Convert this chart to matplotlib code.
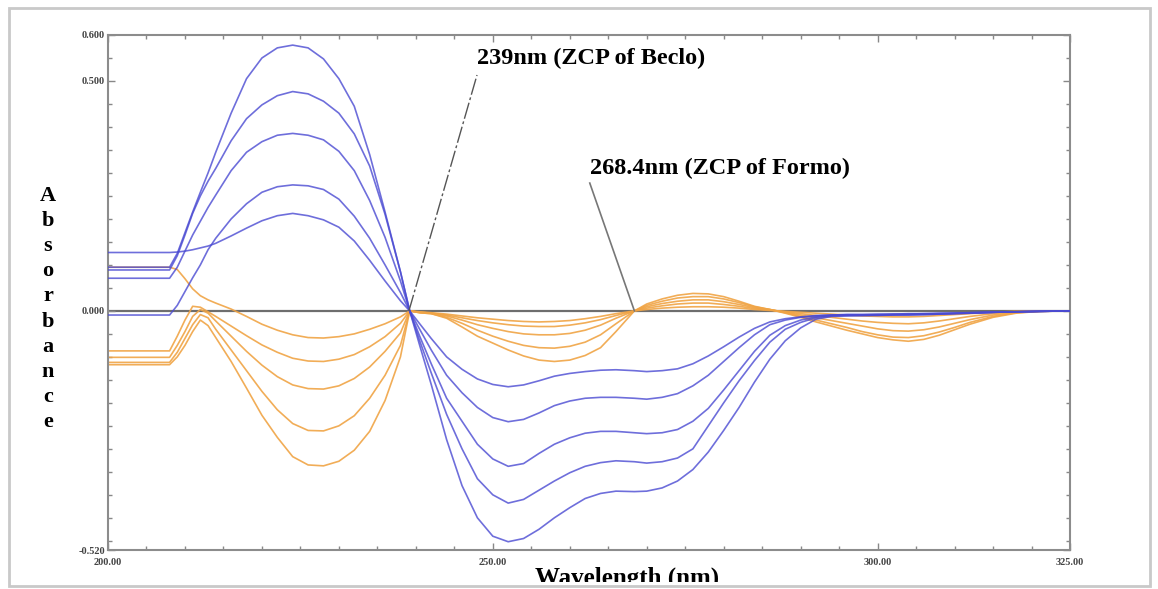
import matplotlib.pyplot as plt
from matplotlib.patches import Rectangle
from matplotlib.ticker import FixedLocator, MultipleLocator

wavelength = [200, 208, 209, 210, 211, 212, 213, 214, 216, 218, 220, 222, 224, 226, 228,
              230, 232, 234, 236, 238, 239.2, 240.5, 242, 244, 246, 248, 250, 252, 254, 256,
              258, 260, 262, 264, 266, 268.4, 270, 272, 274, 276, 278, 280, 282, 284, 286,
              288, 290, 292, 294, 296, 298, 300, 302, 304, 306, 308, 310, 312, 315, 318,
              321, 325]

# blue set (zero crossing at 239 nm)
beclo_1 = [0.095, 0.095, 0.125, 0.17, 0.215, 0.258, 0.30, 0.345, 0.43, 0.505, 0.55, 0.572, 0.578,
           0.572, 0.548, 0.505, 0.445, 0.34, 0.215, 0.085, 0.0, -0.075, -0.16, -0.28, -0.38,
           -0.45, -0.49, -0.502, -0.495, -0.475, -0.45, -0.428, -0.408, -0.397, -0.392, -0.393,
           -0.392, -0.385, -0.37, -0.345, -0.307, -0.26, -0.21, -0.155, -0.105, -0.065, -0.037,
           -0.018, -0.012, -0.011, -0.010, -0.010, -0.009, -0.009, -0.008, -0.007, -0.006,
           -0.005, -0.003, -0.002, -0.001, 0.0]
beclo_2 = [0.089, 0.089, 0.12, 0.165, 0.212, 0.25, 0.282, 0.31, 0.37, 0.418, 0.448, 0.468, 0.477,
           0.472, 0.456, 0.43, 0.385, 0.315, 0.21, 0.085, 0.0, -0.065, -0.135, -0.225, -0.30,
           -0.365, -0.40, -0.418, -0.41, -0.39, -0.37, -0.352, -0.338, -0.33, -0.326, -0.328,
           -0.331, -0.328, -0.32, -0.30, -0.25, -0.20, -0.152, -0.108, -0.068, -0.04, -0.025,
           -0.015, -0.011, -0.010, -0.010, -0.009, -0.009, -0.008, -0.008, -0.007, -0.006,
           -0.005, -0.003, -0.002, -0.001, 0.0]
beclo_3 = [0.071, 0.071, 0.095, 0.13, 0.165, 0.195, 0.225, 0.252, 0.305, 0.345, 0.368, 0.382, 0.386,
           0.382, 0.372, 0.347, 0.305, 0.24, 0.16, 0.065, 0.0, -0.055, -0.115, -0.19, -0.24,
           -0.29, -0.322, -0.338, -0.332, -0.31, -0.29, -0.276, -0.266, -0.262, -0.262, -0.265,
           -0.267, -0.265, -0.258, -0.24, -0.212, -0.172, -0.13, -0.088, -0.053, -0.032, -0.02,
           -0.013, -0.010, -0.009, -0.009, -0.009, -0.008, -0.008, -0.007, -0.006, -0.005,
           -0.004, -0.003, -0.002, -0.001, 0.0]
beclo_4 = [-0.009, -0.009, 0.012, 0.042, 0.072, 0.10, 0.133, 0.158, 0.20, 0.233, 0.258, 0.27, 0.274,
           0.272, 0.264, 0.243, 0.206, 0.158, 0.10, 0.04, 0.0, -0.04, -0.085, -0.14, -0.178,
           -0.21, -0.232, -0.241, -0.236, -0.222, -0.206, -0.196, -0.19, -0.188, -0.188, -0.19,
           -0.192, -0.188, -0.18, -0.163, -0.14, -0.11, -0.08, -0.052, -0.03, -0.02, -0.014,
           -0.011, -0.009, -0.008, -0.008, -0.008, -0.007, -0.007, -0.006, -0.006, -0.005,
           -0.004, -0.003, -0.002, -0.001, 0.0]
beclo_5 = [0.127, 0.127, 0.128, 0.13, 0.133, 0.137, 0.141, 0.147, 0.163, 0.18, 0.196, 0.207, 0.212,
           0.207, 0.198, 0.182, 0.152, 0.11, 0.065, 0.022, 0.0, -0.028, -0.06, -0.10, -0.127,
           -0.148, -0.16, -0.165, -0.161, -0.152, -0.142, -0.136, -0.132, -0.129, -0.128, -0.13,
           -0.132, -0.13, -0.126, -0.115, -0.098, -0.078, -0.057, -0.038, -0.024, -0.017, -0.013,
           -0.010, -0.009, -0.008, -0.008, -0.007, -0.007, -0.006, -0.006, -0.005, -0.005,
           -0.004, -0.003, -0.002, -0.001, 0.0]

# orange set (zero crossing at 268.4 nm)
formo_1 = [0.095, 0.095, 0.09, 0.07, 0.048, 0.033, 0.024, 0.017, 0.004, -0.012, -0.029, -0.042,
           -0.052, -0.058, -0.059, -0.056, -0.05, -0.04, -0.028, -0.013, 0.0, -0.002, -0.004,
           -0.007, -0.011, -0.015, -0.018, -0.021, -0.023, -0.024, -0.023, -0.021, -0.017,
           -0.012, -0.006, 0.0, 0.003, 0.006, 0.008, 0.009, 0.009, 0.008, 0.006, 0.003, 0.001,
           -0.001, -0.003, -0.005, -0.007, -0.009, -0.011, -0.012, -0.013, -0.013, -0.012,
           -0.010, -0.008, -0.006, -0.003, -0.001, 0.0, 0.0]
formo_2 = [-0.087, -0.087, -0.055, -0.02, 0.01, 0.008, -0.002, -0.012, -0.033, -0.054, -0.074,
           -0.09, -0.103, -0.109, -0.11, -0.105, -0.095, -0.078, -0.056, -0.027, 0.0, -0.003,
           -0.005, -0.009, -0.015, -0.021, -0.026, -0.03, -0.033, -0.034, -0.034, -0.031, -0.026,
           -0.019, -0.010, 0.0, 0.006, 0.011, 0.015, 0.017, 0.017, 0.014, 0.010, 0.005, 0.002,
           -0.002, -0.006, -0.010, -0.014, -0.018, -0.022, -0.025, -0.027, -0.028, -0.026,
           -0.022, -0.017, -0.012, -0.006, -0.002, 0.0, 0.0]
formo_3 = [-0.101, -0.101, -0.075, -0.045, -0.012, 0.003, -0.005, -0.022, -0.055, -0.088, -0.118,
           -0.143, -0.161, -0.169, -0.17, -0.163, -0.147, -0.122, -0.088, -0.048, 0.0, -0.003,
           -0.005, -0.011, -0.02, -0.03, -0.038, -0.045, -0.05, -0.052, -0.052, -0.049, -0.042,
           -0.031, -0.016, 0.0, 0.009, 0.016, 0.021, 0.024, 0.024, 0.020, 0.014, 0.007, 0.003,
           -0.003, -0.009, -0.015, -0.021, -0.027, -0.033, -0.039, -0.043, -0.044, -0.041,
           -0.035, -0.027, -0.019, -0.009, -0.003, -0.001, 0.0]
formo_4 = [-0.112, -0.112, -0.09, -0.06, -0.03, -0.008, -0.015, -0.04, -0.085, -0.13, -0.175,
           -0.215, -0.245, -0.26, -0.261, -0.25, -0.228, -0.19, -0.14, -0.075, 0.0, -0.004,
           -0.006, -0.014, -0.027, -0.042, -0.055, -0.066, -0.075, -0.08, -0.081, -0.077,
           -0.068, -0.052, -0.028, 0.0, 0.012, 0.021, 0.028, 0.031, 0.031, 0.026, 0.018, 0.009,
           0.003, -0.004, -0.012, -0.020, -0.028, -0.036, -0.045, -0.052, -0.057, -0.058, -0.054,
           -0.046, -0.036, -0.025, -0.012, -0.004, -0.001, 0.0]
formo_5 = [-0.117, -0.117, -0.10, -0.075, -0.045, -0.02, -0.032, -0.058, -0.11, -0.168, -0.227,
           -0.275, -0.317, -0.335, -0.337, -0.327, -0.303, -0.262, -0.195, -0.10, 0.0, -0.004,
           -0.006, -0.016, -0.035, -0.055, -0.07, -0.085, -0.098, -0.107, -0.11, -0.107, -0.097,
           -0.08, -0.045, 0.0, 0.015, 0.026, 0.034, 0.038, 0.037, 0.031, 0.021, 0.010, 0.003,
           -0.005, -0.014, -0.024, -0.033, -0.042, -0.050, -0.058, -0.063, -0.066, -0.062,
           -0.053, -0.041, -0.029, -0.014, -0.005, -0.001, 0.0]

beclo_curves = [beclo_1, beclo_2, beclo_3, beclo_4, beclo_5]
formo_curves = [formo_1, formo_2, formo_3, formo_4, formo_5]

x_ticks = [200, 250, 300, 325]
x_labels = ["200.00", "250.00", "300.00", "325.00"]
y_ticks = [-0.52, 0.0, 0.5, 0.6]
y_labels = ["-0.520", "0.000", "0.500", "0.600"]

serif = "Liberation Serif"
W, H = 1158, 589

fig = plt.figure(figsize=(W / 100, H / 100), dpi=100)
ax = fig.add_axes([108 / W, 1 - 550 / H, (1070 - 108) / W, (550 - 35) / H])

ax.axhline(0, color="#6e6e6e", lw=1.6, zorder=1)
for curve in formo_curves:
    ax.plot(wavelength, curve, color="#f0a445", lw=1.2, alpha=0.9, zorder=2)
for curve in beclo_curves:
    ax.plot(wavelength, curve, color="#4a4ad2", lw=1.2, alpha=0.8, zorder=3)

# leader lines of the two zero crossing points
ax.plot([239.1, 247.95], [0, 0.513], color="#555555", lw=1.0, dashes=(12, 2, 2, 2), zorder=4)
ax.plot([268.4, 262.6], [0, 0.278], color="#777777", lw=1.2, zorder=4)
ax.text(247.9, 0.548, "239nm (ZCP of Beclo)", family=serif, weight="bold", fontsize=17.5,
        va="center", ha="left")
ax.text(262.6, 0.309, "268.4nm (ZCP of Formo)", family=serif, weight="bold", fontsize=17.5,
        va="center", ha="left")

ax.set_xlim(200, 325)
ax.set_ylim(-0.52, 0.6)
ax.xaxis.set_major_locator(FixedLocator(x_ticks))
ax.set_xticklabels(x_labels)
ax.xaxis.set_minor_locator(MultipleLocator(5))
ax.yaxis.set_major_locator(FixedLocator(y_ticks))
ax.set_yticklabels(y_labels)
ax.yaxis.set_minor_locator(MultipleLocator(0.05))
ax.tick_params(which="both", direction="in", top=True, right=True, color="#888888")
ax.tick_params(which="major", length=5, width=1)
ax.tick_params(which="minor", length=3, width=1)
ax.tick_params(axis="y", pad=2)
ax.tick_params(axis="x", pad=6)
for lab in ax.get_xticklabels() + ax.get_yticklabels():
    lab.set_family(serif)
    lab.set_fontweight("bold")
    lab.set_fontsize(7.5)
    lab.set_color("#444444")
for sp in ax.spines.values():
    sp.set_color("#8c8c8c")
    sp.set_linewidth(1.5)

fig.text(48 / W, 1 - 309 / H, "\n".join("Absorbance"), family=serif, weight="bold",
         fontsize=16, ha="center", va="center", linespacing=1.34)
fig.text(627 / W, 1 - 585 / H, "Wavelength (nm)", family=serif, weight="bold",
         fontsize=18, ha="center", va="baseline", zorder=5)

# picture frame, hides the bottom of the x label like the source
fig.patches.append(Rectangle((0, 0), 1, 7 / H, transform=fig.transFigure,
                             facecolor="white", edgecolor="none", zorder=10))
fig.patches.append(Rectangle((9 / W, 3 / H), (1150 - 9) / W, (586 - 8) / H,
                             transform=fig.transFigure, facecolor="none",
                             edgecolor="#c9c9c9", lw=2, zorder=11))

fig.savefig("out.png", dpi=100)
